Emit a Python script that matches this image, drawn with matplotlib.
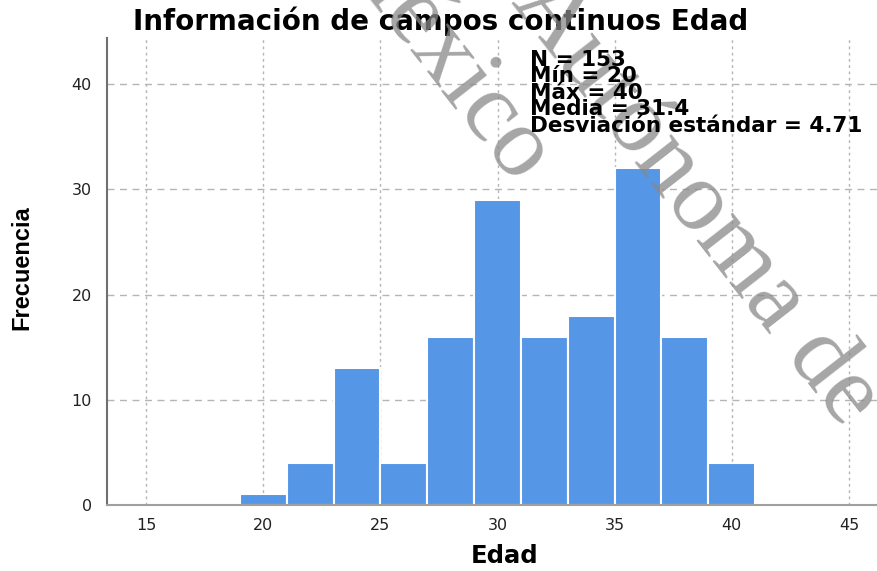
import matplotlib.pyplot as plt

# Datos del histograma (Edad, ancho de clase 2)
bin_centers = [20, 22, 24, 26, 28, 30, 32, 34, 36, 38, 40]
counts = [1, 4, 13, 4, 16, 29, 16, 18, 32, 16, 4]
x_ticks = [15, 20, 25, 30, 35, 40, 45]
y_ticks = [0, 10, 20, 30, 40]
stats_lines = ["N = 153", "Mín = 20", "Máx = 40", "Media = 31.4",
               "Desviación estándar = 4.71"]

W, H = 877, 571


def fx(px):
    return px / W


def fy(py):
    return 1 - py / H


fig = plt.figure(figsize=(W / 100, H / 100), dpi=100)
ax = fig.add_axes([fx(107), fy(505), 1 - fx(107), fy(38) - fy(505)])

ax.bar(bin_centers, counts, width=2, color="#5596E6", edgecolor="white",
       linewidth=1.5, zorder=2)

ax.set_xlim(13.33, 46.2)
ax.set_ylim(0, 44.4)
ax.set_xticks(x_ticks)
ax.set_yticks(y_ticks)
ax.tick_params(length=0, labelsize=11.5, colors="#222222")
ax.tick_params(axis="x", pad=9)
ax.tick_params(axis="y", pad=11)

# Rejilla: horizontales discontinuas, verticales punteadas
for yv in y_ticks[1:]:
    ax.axhline(yv, color="#b5b5b5", lw=1, ls=(0, (5, 4)), zorder=1)
for xv in x_ticks:
    ax.axvline(xv, color="#b5b5b5", lw=1, ls=(0, (2, 2.5)), zorder=1)

for s in ["top", "right"]:
    ax.spines[s].set_visible(False)
ax.spines["left"].set_color("#707070")
ax.spines["left"].set_linewidth(1.5)
ax.spines["bottom"].set_color("#a0a0a0")
ax.spines["bottom"].set_linewidth(1.5)

# Textos
fig.text(0.502, fy(21), "Información de campos continuos Edad", ha="center",
         va="center", fontsize=20, fontweight="bold", family="DejaVu Sans")
fig.text(fx(505), fy(556), "Edad", ha="center", va="center", fontsize=17.5,
         fontweight="bold", family="DejaVu Sans")
fig.text(fx(22), fy(268), "Frecuencia", ha="center", va="center",
         rotation=90, fontsize=17, fontweight="bold",
         family="Liberation Sans")
fig.text(fx(530), fy(50), "\n".join(stats_lines), ha="left", va="top",
         fontsize=15.5, fontweight="bold", family="DejaVu Sans",
         linespacing=0.78, zorder=5)

# Marca de agua
wm = dict(rotation=-52, rotation_mode="anchor", fontsize=72,
          family="Liberation Serif", color="#888888", alpha=0.75, zorder=4)
fig.text(fx(533), fy(172), "México", ha="right", va="center", **wm)
fig.text(fx(862), fy(414), "Autónoma de", ha="right", va="center", **wm)

fig.savefig("out.png", dpi=100)
